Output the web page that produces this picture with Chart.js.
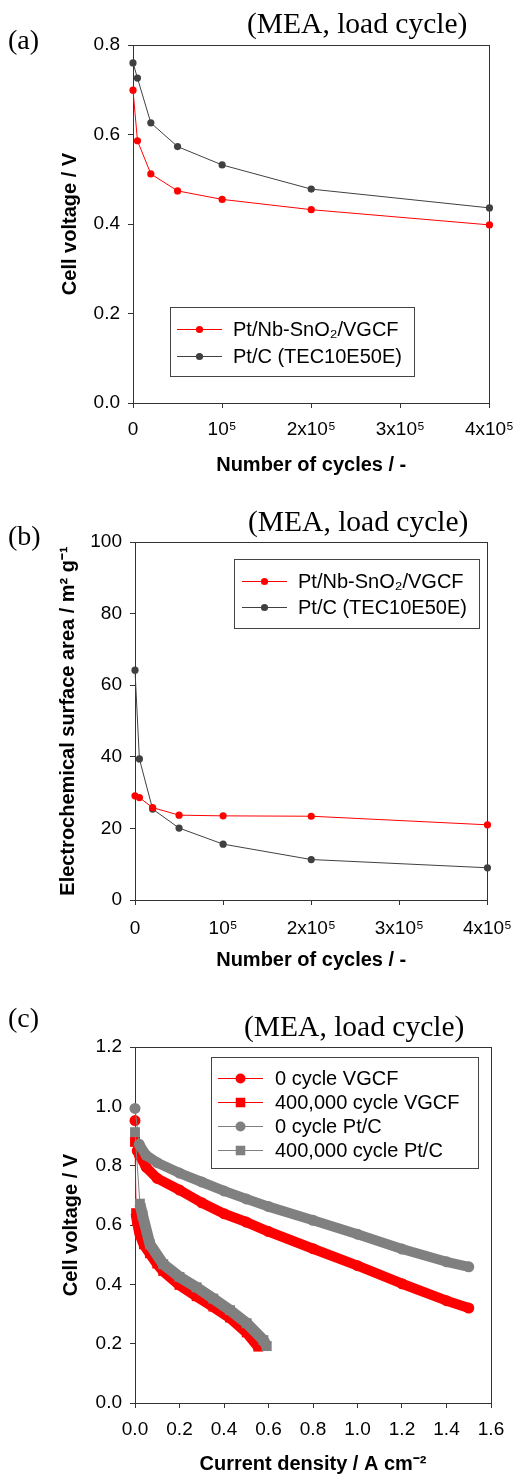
<!DOCTYPE html>
<html>
<head>
<meta charset="utf-8">
<script src="https://cdn.jsdelivr.net/npm/chart.js@4.4.0/dist/chart.umd.min.js"></script>
<style>
  html, body { margin: 0; padding: 0; background: #fff; overflow: hidden; }
  .panel { position: absolute; left: 0; }
  .lbl { position: absolute; font-family: "Liberation Serif", "Times New Roman", serif; color: #000; white-space: nowrap; line-height: 1; }
</style>
</head>
<body>
<div class="panel" style="top:0"><canvas id="chartA" width="524" height="484"></canvas></div>
<div class="panel" style="top:484px"><canvas id="chartB" width="524" height="490"></canvas></div>
<div class="panel" style="top:974px"><canvas id="chartC" width="524" height="506"></canvas></div>

<div class="lbl" style="left:8px;top:26px;font-size:28px">(a)</div>
<div class="lbl" style="left:247px;top:9px;font-size:29.5px">(MEA, load cycle)</div>
<div class="lbl" style="left:8px;top:522px;font-size:28px">(b)</div>
<div class="lbl" style="left:248px;top:507px;font-size:29.5px">(MEA, load cycle)</div>
<div class="lbl" style="left:8px;top:1004px;font-size:28px">(c)</div>
<div class="lbl" style="left:244px;top:1012px;font-size:29.5px">(MEA, load cycle)</div>

<script>
// ---- data ----
var cycles = [0, 5000, 20000, 50000, 100000, 200000, 400000];
var cycleTicks = ['0', '10\u2075', '2x10\u2075', '3x10\u2075', '4x10\u2075'];

// (a) cell voltage vs cycles
var voltVGCF = [0.699, 0.586, 0.512, 0.474, 0.455, 0.432, 0.398];
var voltPtC = [0.760, 0.726, 0.626, 0.573, 0.532, 0.478, 0.436];

// (b) ECSA vs cycles
var ecsaVGCF = [29.1, 28.6, 25.8, 23.7, 23.5, 23.4, 21.0];
var ecsaPtC = [64.2, 39.4, 25.4, 20.1, 15.6, 11.3, 9.0];

// (c) I-V curves
var curVGCF0 = [0, 0.01, 0.02, 0.05, 0.1, 0.2, 0.3, 0.4, 0.5, 0.6, 0.8, 1.0, 1.2, 1.4, 1.5];
var vVGCF0 = [0.952, 0.85, 0.835, 0.795, 0.757, 0.718, 0.675, 0.638, 0.61, 0.578, 0.52, 0.463, 0.402, 0.345, 0.32];
var curVGCF400k = [0, 0.005, 0.01, 0.022, 0.04, 0.067, 0.1, 0.127, 0.2, 0.277, 0.352, 0.427, 0.502, 0.554];
var vVGCF400k = [0.88, 0.64, 0.615, 0.57, 0.535, 0.505, 0.47, 0.445, 0.398, 0.36, 0.325, 0.288, 0.238, 0.19];
var curPtC0 = [0, 0.019, 0.05, 0.1, 0.2, 0.3, 0.4, 0.5, 0.6, 0.8, 1.0, 1.2, 1.4, 1.5];
var vPtC0 = [0.993, 0.872, 0.835, 0.81, 0.775, 0.745, 0.715, 0.688, 0.662, 0.616, 0.569, 0.519, 0.476, 0.459];
var curPtC400k = [0, 0.022, 0.034, 0.067, 0.127, 0.2, 0.277, 0.352, 0.427, 0.502, 0.577, 0.592];
var vPtC400k = [0.913, 0.672, 0.633, 0.535, 0.468, 0.425, 0.39, 0.352, 0.313, 0.269, 0.212, 0.192];

function pts(xs, ys) {
	return xs.map(function (x, i) { return {x: x, y: ys[i]}; });
}

var SANS = '"Liberation Sans", Arial, sans-serif';
var AXIS = '#333333';

/* draws the full box round the plot area */
var frame = {
	id: 'frame',
	beforeDatasetsDraw: function (chart) {
		var a = chart.chartArea, ctx = chart.ctx;
		ctx.save();
		ctx.strokeStyle = AXIS;
		ctx.lineWidth = 1;
		ctx.strokeRect(Math.round(a.left) + 0.5, Math.round(a.top) + 0.5, Math.round(a.right - a.left), Math.round(a.bottom - a.top));
		ctx.restore();
	}
};

/* legend with line + marker, like the original figure */
var boxLegend = {
	id: 'boxLegend',
	afterDraw: function (chart, args, o) {
		var ctx = chart.ctx;
		ctx.save();
		ctx.fillStyle = '#fff';
		ctx.fillRect(o.x, o.y, o.w, o.h);
		ctx.strokeStyle = '#444';
		ctx.lineWidth = 1;
		ctx.strokeRect(o.x + 0.5, o.y + 0.5, o.w, o.h);
		ctx.font = o.fontSize + 'px ' + SANS;
		ctx.textBaseline = 'middle';
		ctx.textAlign = 'left';
		chart.data.datasets.forEach(function (ds, i) {
			var y = Math.round(o.y + o.first + i * o.gap) + 0.5;
			ctx.strokeStyle = ds.borderColor;
			ctx.lineWidth = 1;
			ctx.beginPath();
			ctx.moveTo(o.x + o.lineFrom, y);
			ctx.lineTo(o.x + o.lineTo, y);
			ctx.stroke();
			ctx.fillStyle = ds.pointBackgroundColor;
			Chart.helpers.drawPoint(ctx, {pointStyle: ds.pointStyle || 'circle', radius: o.marker * (ds.pointStyle === 'rect' ? 1.35 : 1), borderWidth: 0, rotation: 0}, o.x + (o.lineFrom + o.lineTo) / 2, y);
			ctx.fillStyle = '#000';
			ctx.fillText(ds.label, o.x + o.text, y + 1);
		});
		ctx.restore();
	}
};

function scaleOpts(cfg) {
	return {
		type: 'linear',
		min: cfg.min,
		max: cfg.max,
		afterFit: cfg.fit,
		border: {display: true, color: AXIS, width: 1},
		grid: {display: true, drawOnChartArea: false, drawTicks: true, tickLength: 5, color: AXIS},
		ticks: {
			stepSize: cfg.step,
			padding: cfg.pad,
			color: '#000',
			font: {family: SANS, size: 19},
			maxRotation: 0,
			autoSkip: false,
			callback: cfg.label
		},
		title: {
			display: true,
			text: cfg.title,
			color: '#000',
			font: {family: SANS, size: 20, weight: 'bold'},
			padding: cfg.titlePad
		}
	};
}

function baseOptions(pad, xs, ys, legend) {
	return {
		responsive: false,
		animation: false,
		events: [],
		layout: {padding: pad},
		plugins: {legend: {display: false}, tooltip: {enabled: false}, boxLegend: legend},
		scales: {x: xs, y: ys}
	};
}

function cycleLabel(v) { return cycleTicks[Math.round(v / 100000)]; }
function oneDecimal(v) { return v.toFixed(1); }

function smallSeries(label, color, xs, ys) {
	return {
		label: label,
		data: pts(xs, ys),
		borderColor: color,
		backgroundColor: color,
		pointBackgroundColor: color,
		pointBorderWidth: 0,
		pointRadius: 3.6,
		borderWidth: 1,
		tension: 0,
		clip: false
	};
}

// (a)
new Chart(document.getElementById('chartA'), {
	type: 'line',
	data: {
		datasets: [
			smallSeries('Pt/Nb-SnO\u2082/VGCF', '#ff0000', cycles, voltVGCF),
			smallSeries('Pt/C (TEC10E50E)', '#404040', cycles, voltPtC)
		]
	},
	options: baseOptions({top: 45, right: 33, left: 0, bottom: 0},
		scaleOpts({min: 0, max: 400000, step: 100000, pad: 10, label: cycleLabel, title: 'Number of cycles / -',
			titlePad: {top: 0, bottom: 7}, fit: function (s) { s.height = 81; }}),
		scaleOpts({min: 0, max: 0.8, step: 0.2, pad: 8, label: oneDecimal, title: 'Cell voltage / V',
			titlePad: {top: 58, bottom: 0}, fit: function (s) { s.width = 133; }}),
		{x: 170, y: 307, w: 244, h: 69, first: 21.5, gap: 27.5, lineFrom: 7, lineTo: 52, text: 63, marker: 3.6, fontSize: 20}),
	plugins: [frame, boxLegend]
});

// (b)
new Chart(document.getElementById('chartB'), {
	type: 'line',
	data: {
		datasets: [
			smallSeries('Pt/Nb-SnO\u2082/VGCF', '#ff0000', cycles, ecsaVGCF),
			smallSeries('Pt/C (TEC10E50E)', '#404040', cycles, ecsaPtC)
		]
	},
	options: baseOptions({top: 58, right: 30, left: 0, bottom: 0},
		scaleOpts({min: 0, max: 400000, step: 100000, pad: 12, label: cycleLabel, title: 'Number of cycles / -',
			titlePad: {top: 0, bottom: 2}, fit: function (s) { s.height = 74; }}),
		scaleOpts({min: 0, max: 100, step: 20, pad: 8, label: function (v) { return String(v); },
			title: 'Electrochemical surface area / m\u00b2 g\u207b\u00b9',
			titlePad: {top: 56, bottom: 0}, fit: function (s) { s.width = 135; }}),
		{x: 234, y: 75, w: 245, h: 69, first: 21.5, gap: 26.5, lineFrom: 8, lineTo: 53, text: 64, marker: 3.6, fontSize: 20}),
	plugins: [frame, boxLegend]
});

// (c)
function bandSeries(label, color, style, xs, ys, order) {
	var rect = style === 'rect';
	var w = rect ? 11 : 10;
	return {
		label: label,
		data: pts(xs, ys),
		borderColor: color,
		backgroundColor: color,
		pointBackgroundColor: color,
		pointBorderWidth: 0,
		pointStyle: style,
		pointRadius: rect ? 7 : 5.5,
		borderWidth: w,
		borderCapStyle: rect ? 'butt' : 'round',
		borderJoinStyle: rect ? 'miter' : 'round',
		segment: {borderWidth: function (ctx) { return ctx.p0DataIndex === 0 ? 1 : w; }},
		tension: 0,
		clip: false,
		order: order
	};
}

new Chart(document.getElementById('chartC'), {
	type: 'line',
	data: {
		datasets: [
			bandSeries('0 cycle VGCF', '#ff0000', 'circle', curVGCF0, vVGCF0, 1),
			bandSeries('400,000 cycle VGCF', '#ff0000', 'rect', curVGCF400k, vVGCF400k, 1),
			bandSeries('0 cycle Pt/C', '#808080', 'circle', curPtC0, vPtC0, 0),
			bandSeries('400,000 cycle Pt/C', '#808080', 'rect', curPtC400k, vPtC400k, 0)
		]
	},
	options: baseOptions({top: 73, right: 33, left: 0, bottom: 0},
		scaleOpts({min: 0, max: 1.6, step: 0.2, pad: 10, label: oneDecimal, title: 'Current density / A cm\u207b\u00b2',
			titlePad: {top: 0, bottom: 4}, fit: function (s) { s.height = 77; }}),
		scaleOpts({min: 0, max: 1.2, step: 0.2, pad: 8, label: oneDecimal, title: 'Cell voltage / V',
			titlePad: {top: 59, bottom: 0}, fit: function (s) { s.width = 135; }}),
		{x: 211, y: 83, w: 267, h: 111, first: 20.5, gap: 24, lineFrom: 7, lineTo: 52, text: 64, marker: 5, fontSize: 20}),
	plugins: [frame, boxLegend]
});
</script>
</body>
</html>
